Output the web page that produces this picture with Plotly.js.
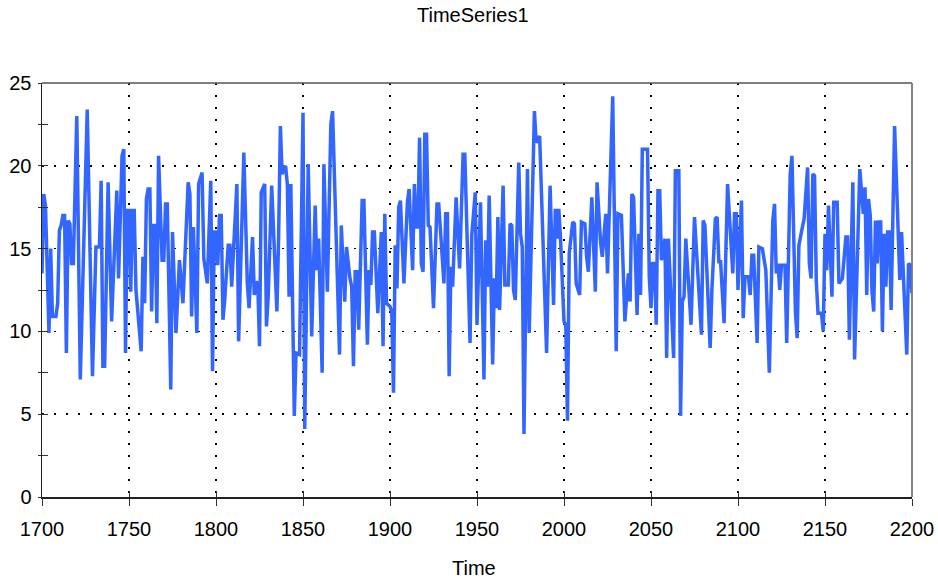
<!DOCTYPE html>
<html>
<head>
<meta charset="utf-8">
<script src="https://cdn.plot.ly/plotly-3.0.1.min.js"></script>
<style>html,body{margin:0;padding:0;background:#fff;}#chart{width:938px;height:579px;}</style>
</head>
<body>
<div id="chart"></div>
<script>
// Time series vertices
const years = [
1700,1701,1702,1704,1705,1706,1708,1709,1710,1711,1712,1713,1714,1715,1716,1717,1718,1720,1722,1726,
1729,1731,1733,1734,1735,1736,1738,1740,1743,1744,1746,1747,1748,1749,1750,1751,1752,1753,1754,1757,
1758,1759,1760,1761,1762,1763,1764,1765,1766,1767,1769,1770,1771,1772,1774,1775,1777,1779,1781,1784,
1785,1786,1787,1789,1790,1792,1793,1795,1797,1798,1799,1800,1801,1802,1803,1804,1805,1807,1808,1809,
1812,1813,1816,1818,1819,1821,1822,1823,1824,1825,1826,1828,1829,1830,1832,1835,1836,1837,1838,1840,
1841,1842,1843,1845,1846,1848,1850,1851,1853,1855,1857,1858,1859,1861,1862,1864,1866,1867,1871,1872,
1874,1875,1877,1878,1879,1880,1881,1882,1884,1885,1887,1888,1889,1890,1891,1893,1895,1896,1897,1898,
1900,1901,1902,1903,1904,1905,1906,1908,1910,1911,1913,1914,1915,1916,1917,1918,1919,1920,1921,1922,
1923,1925,1927,1928,1931,1932,1933,1934,1935,1936,1938,1940,1942,1943,1946,1947,1949,1950,1952,1954,
1955,1956,1957,1959,1960,1961,1962,1963,1965,1966,1968,1969,1970,1971,1972,1974,1975,1976,1977,1979,
1980,1983,1984,1986,1990,1991,1992,1994,1995,1996,1997,1998,2000,2001,2002,2003,2005,2006,2007,2009,
2010,2012,2013,2014,2016,2018,2019,2021,2022,2024,2025,2028,2030,2031,2033,2035,2037,2038,2039,2040,
2042,2043,2044,2045,2048,2049,2050,2051,2052,2053,2054,2055,2056,2058,2059,2060,2063,2064,2066,2067,
2068,2069,2070,2073,2075,2079,2080,2081,2084,2085,2087,2088,2089,2090,2092,2094,2097,2098,2099,2100,
2102,2103,2104,2106,2107,2108,2109,2111,2112,2114,2116,2118,2120,2121,2122,2123,2124,2125,2127,2128,
2130,2131,2133,2134,2135,2137,2138,2140,2141,2142,2143,2144,2145,2146,2148,2149,2150,2151,2152,2154,
2155,2157,2158,2160,2162,2163,2164,2166,2167,2170,2172,2173,2174,2175,2176,2177,2178,2179,2180,2181,
2182,2183,2184,2185,2186,2187,2188,2190,2193,2194,2197,2198,2199,2200
];
const values = [
13.5,18.3,17.6,9.9,15.0,10.9,10.9,11.7,16.1,16.4,17.0,17.0,8.7,16.7,16.5,14.1,14.1,23.0,7.1,23.4,
7.3,15.1,15.1,19.1,7.9,7.9,19.0,10.6,18.5,13.2,20.6,21.0,8.7,17.3,17.3,12.4,17.3,17.3,12.5,8.8,
14.5,11.7,18.0,18.6,18.6,11.2,16.4,16.4,10.5,20.6,14.3,14.3,17.7,17.7,6.5,16.0,9.9,14.3,11.7,19.0,
18.3,10.9,16.3,9.9,18.9,19.6,14.4,12.9,19.1,7.6,16.0,16.0,14.0,17.0,17.0,10.7,11.9,15.2,15.2,12.7,
18.9,9.4,20.8,12.9,11.4,15.7,12.2,13.0,12.9,9.1,18.4,18.9,10.3,12.1,18.8,11.2,15.8,22.4,19.5,20.0,
18.9,12.1,18.9,4.9,8.7,8.6,23.2,4.1,20.1,9.7,17.6,13.7,15.6,7.5,20.1,12.4,22.5,23.3,8.6,16.4,
11.8,15.1,13.2,12.7,7.9,13.6,13.6,10.1,17.9,17.9,9.2,13.7,12.8,16.0,16.0,11.1,16.0,9.1,17.1,11.7,
11.5,11.2,6.3,15.2,12.6,17.5,17.9,12.9,17.8,18.6,13.7,18.9,16.3,16.3,21.7,14.1,13.6,21.9,21.9,16.4,
16.3,11.4,17.7,17.7,12.9,17.1,17.1,7.3,13.9,12.7,18.1,13.8,20.7,20.7,9.3,15.8,18.4,10.4,17.8,7.1,
15.5,12.7,18.2,8.0,13.2,11.4,16.9,11.3,18.8,12.8,12.8,16.5,16.4,12.5,11.9,20.2,15.9,15.1,3.8,19.8,
9.9,23.3,21.4,21.8,8.7,15.1,18.8,11.6,17.4,15.6,17.4,15.6,10.6,10.4,4.6,14.7,16.6,16.5,12.9,12.2,
16.6,16.5,14.5,13.6,18.1,12.4,19.0,15.4,14.5,17.1,13.5,24.2,8.8,17.1,17.0,10.6,13.5,11.8,18.3,18.1,
11.0,15.9,12.2,21.0,21.0,13.3,11.4,14.1,14.1,10.4,18.5,18.5,14.3,15.6,8.4,15.6,8.4,19.7,19.7,4.9,
11.8,12.1,15.6,10.4,16.9,9.8,16.7,16.4,9.0,12.5,16.8,16.9,14.2,14.2,10.5,18.9,13.5,17.1,17.1,12.5,
17.9,10.8,13.3,13.3,12.2,14.6,14.6,9.3,15.1,15.0,13.7,7.5,16.7,17.7,13.5,14.1,12.5,14.0,14.0,9.3,
19.5,20.6,11.2,9.6,15.2,16.3,16.8,19.9,14.1,13.2,19.5,19.4,13.0,11.1,11.1,10.0,15.9,13.7,17.6,12.1,
17.8,17.8,12.9,13.2,15.7,15.7,9.5,19.0,8.3,19.8,17.1,18.7,12.2,18.0,17.0,12.4,11.2,16.7,14.1,16.6,
16.6,10.0,15.9,12.7,16.0,16.0,11.3,22.4,13.1,16.0,8.6,14.1,14.0,12.3
];
const chartTitle = 'TimeSeries1';
const xTitle = 'Time';
const xRange = [1700, 2200];
const yRange = [0, 25];

const FONT = '"Liberation Sans", Arial, Helvetica, sans-serif';

const traces = [
  {
    x: years, y: values, type: 'scatter', mode: 'lines',
    line: {color: '#3366ff', width: 3.5},
    hoverinfo: 'skip'
  },
  {
    x: [], y: [], type: 'scatter', mode: 'lines', xaxis: 'x2', yaxis: 'y2',
    hoverinfo: 'skip', showlegend: false
  }
];

const layout = {
  width: 938, height: 579,
  margin: {l: 42, r: 26, t: 83, b: 82, pad: 0},
  paper_bgcolor: '#ffffff', plot_bgcolor: '#ffffff',
  font: {family: FONT, size: 20, color: '#000000'},
  showlegend: false,
  title: {
    text: chartTitle, x: 0.504, xref: 'container', xanchor: 'center',
    y: 0.974, yref: 'container', yanchor: 'middle',
    font: {family: FONT, size: 20, color: '#000000'}
  },
  xaxis: {
    range: xRange, tickmode: 'linear', tick0: 1700, dtick: 50,
    showgrid: true, gridcolor: '#000000', gridwidth: 1.6, griddash: '2px,10px',
    showline: true, linecolor: '#222222', linewidth: 1.5,
    ticks: 'outside', ticklen: 7, tickwidth: 1, tickcolor: '#333333',
    ticklabelstandoff: 6,
    zeroline: false, fixedrange: true,
    tickfont: {family: FONT, size: 20, color: '#000000'}
  },
  yaxis: {
    range: yRange, tickmode: 'linear', tick0: 0, dtick: 5,
    showgrid: true, gridcolor: '#000000', gridwidth: 1.6, griddash: '2px,10px',
    showline: true, linecolor: '#222222', linewidth: 1.5,
    ticks: 'outside', ticklen: 3, tickwidth: 1, tickcolor: '#333333',
    ticklabelstandoff: 2,
    minor: {dtick: 2.5, tick0: 0, ticks: 'outside', ticklen: 3, tickwidth: 1, tickcolor: '#333333', showgrid: false},
    zeroline: false, fixedrange: true,
    tickfont: {family: FONT, size: 20, color: '#000000'}
  },
  xaxis2: {
    overlaying: 'x', anchor: 'y2', side: 'bottom', range: xRange,
    tickmode: 'linear', tick0: 1700, dtick: 50,
    ticks: 'inside', ticklen: 6, tickwidth: 1, tickcolor: '#333333',
    showticklabels: false, showgrid: false, showline: false, zeroline: false, fixedrange: true
  },
  yaxis2: {
    overlaying: 'y', anchor: 'x2', side: 'left', range: yRange,
    tickmode: 'linear', tick0: 0, dtick: 5,
    ticks: 'inside', ticklen: 6, tickwidth: 1, tickcolor: '#333333',
    minor: {dtick: 2.5, tick0: 0, ticks: 'inside', ticklen: 6, tickwidth: 1, tickcolor: '#333333', showgrid: false},
    showticklabels: false, showgrid: false, showline: false, zeroline: false, fixedrange: true
  },
  annotations: [
    {text: xTitle, xref: 'paper', yref: 'paper', x: 0.496, y: -0.1715, xanchor: 'center', yanchor: 'middle',
     showarrow: false, font: {family: FONT, size: 20, color: '#000000'}}
  ],
  shapes: [
    {type: 'line', xref: 'paper', yref: 'paper', x0: 0, x1: 1, y0: 1, y1: 1, line: {color: '#555555', width: 1.5}, layer: 'above'},
    {type: 'line', xref: 'paper', yref: 'paper', x0: 1, x1: 1, y0: 0, y1: 1, line: {color: '#777777', width: 1.8}, layer: 'above'}
  ]
};

Plotly.newPlot('chart', traces, layout, {displayModeBar: false, staticPlot: true});
</script>
</body>
</html>
